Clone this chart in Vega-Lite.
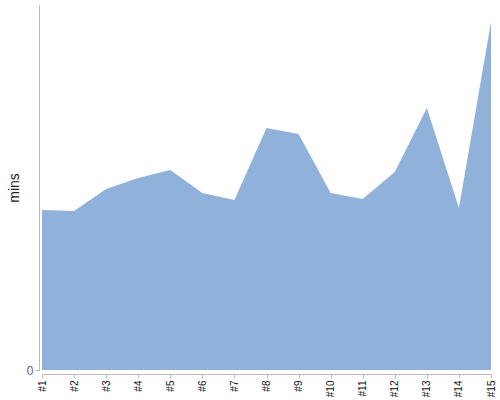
{
  "$schema": "https://vega.github.io/schema/vega-lite/v6.json",
  "width": 449,
  "height": 365,
  "autosize": {"type": "none"},
  "padding": {"left": 42, "top": 5, "right": 9, "bottom": 30},
  "background": "white",
  "config": {"view": {"stroke": null}, "font": "Liberation Sans"},
  "data": {"values": [
    {"run": "#1", "mins": 160},
    {"run": "#2", "mins": 159},
    {"run": "#3", "mins": 181},
    {"run": "#4", "mins": 192},
    {"run": "#5", "mins": 200},
    {"run": "#6", "mins": 177},
    {"run": "#7", "mins": 170},
    {"run": "#8", "mins": 242},
    {"run": "#9", "mins": 236},
    {"run": "#10", "mins": 177},
    {"run": "#11", "mins": 171},
    {"run": "#12", "mins": 198},
    {"run": "#13", "mins": 262},
    {"run": "#14", "mins": 162},
    {"run": "#15", "mins": 348}
  ]},
  "mark": {"type": "area", "color": "#8fb1da", "opacity": 1},
  "encoding": {
    "x": {
      "field": "run", "type": "ordinal", "sort": null,
      "scale": {"type": "point", "padding": 0},
      "axis": {
        "title": null, "labelAngle": -90, "labelFontSize": 10, "labelColor": "#111",
        "domainColor": "#bbb", "tickColor": "#bbb", "tickSize": 4, "offset": 4, "labelPadding": 2, "grid": false
      }
    },
    "y": {
      "field": "mins", "type": "quantitative",
      "scale": {"domain": [0, 365], "nice": false},
      "axis": {
        "title": "mins", "titleFontSize": 14, "titleFontWeight": "normal", "titleColor": "#222",
        "titlePadding": 5,
        "values": [0], "labelFontSize": 12, "labelColor": "#666",
        "domainColor": "#bbb", "tickColor": "#bbb", "tickSize": 4, "offset": 3, "grid": false
      }
    }
  }
}
